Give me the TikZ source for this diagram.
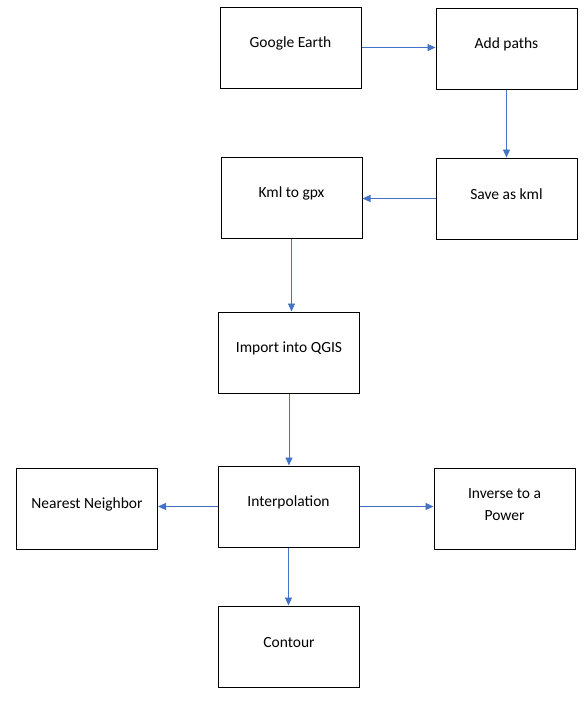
\documentclass[tikz,border=0pt]{standalone}
\usepackage{fontspec}
\setmainfont{Carlito}
\usetikzlibrary{arrows.meta}
\definecolor{flowblue}{HTML}{4472C4}
\tikzstyle{stage}=[draw,line width=1pt,minimum width=141pt,minimum height=81pt,inner sep=0pt]
\tikzstyle{caption}=[font=\fontsize{15.5}{21.5}\selectfont,align=center,anchor=center,yshift=-37pt]
\tikzstyle{arr}=[draw,flowblue,line width=0.9pt,-{Triangle[length=8pt,width=7pt]}]

\begin{document}
\begin{tikzpicture}[x=1pt,y=-1pt]
    \useasboundingbox (0,0) rectangle (585,704);
    \foreach \pos/\name/\val in {{(290.5,47.5)/earth/Google Earth}, {(506.5,48.5)/paths/Add paths},
    {(506.5,198.5)/kml/Save as kml},{(291.5,197.5)/gpx/Kml to gpx},{(289,352.5)/qgis/Import into QGIS},
    {(288.5,506.5)/interp/Interpolation},{(87,508.5)/nearest/Nearest Neighbor},
    {(504.5,508.5)/inverse/Inverse to a\\Power},{(289,646.5)/contour/Contour}}
        \node[stage,label={[caption]north:\val}] (\name) at \pos {};

    % -| keeps horizontal arrows level, |- keeps vertical ones plumb
    \foreach \source/\dest/\op in {earth.east/paths.west/-|,paths.south/kml.north/|-,kml.west/gpx.east/-|,
    gpx.south/qgis.north/|-,qgis.south/interp.north/|-,interp.west/nearest.east/-|,
    interp.east/inverse.west/-|,interp.south/contour.north/|-}
        \path[arr] (\source) -- (\source \op \dest);
\end{tikzpicture}
\end{document}
